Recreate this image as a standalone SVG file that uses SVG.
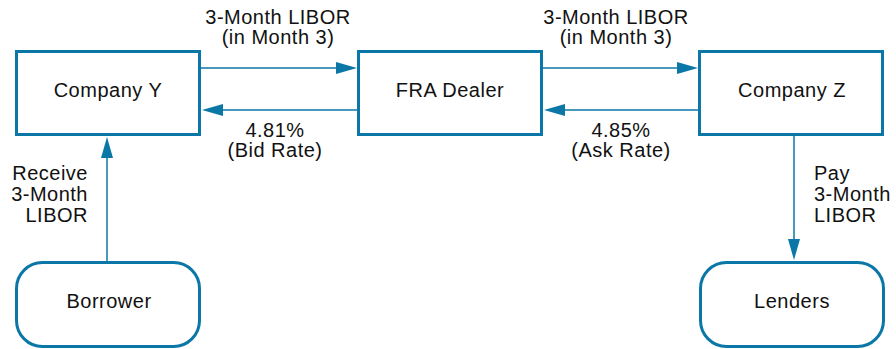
<svg xmlns="http://www.w3.org/2000/svg" width="896" height="349" viewBox="0 0 896 349">
<defs>
<style>
.box{fill:#fff;stroke:#0b77a7;stroke-width:3}
.ln{stroke:#0b77a7;stroke-width:1.5;fill:none}
.ah{fill:#0b77a7}
text{font-family:"Liberation Sans",Arial,sans-serif;font-size:20px;letter-spacing:0.5px;fill:#111}
.c{text-anchor:middle}
.r{text-anchor:end}
</style>
</defs>
<g id="connectors">
<line class="ln" x1="201" y1="68" x2="340" y2="68"/>
<polygon class="ah" points="357,68 336,62 336,74"/>
<line class="ln" x1="357" y1="110" x2="218" y2="110"/>
<polygon class="ah" points="202,110 223,104 223,116"/>
<line class="ln" x1="543" y1="68" x2="682" y2="68"/>
<polygon class="ah" points="698,68 677,62 677,74"/>
<line class="ln" x1="698" y1="110" x2="560" y2="110"/>
<polygon class="ah" points="544,110 565,104 565,116"/>
<line class="ln" x1="107" y1="261" x2="107" y2="152"/>
<polygon class="ah" points="107,137 101,158 113,158"/>
<line class="ln" x1="794" y1="136" x2="794" y2="244"/>
<polygon class="ah" points="794,260 788,239 800,239"/>
<text class="c" x="278" y="24">3-Month LIBOR</text>
<text class="c" x="278" y="44">(in Month 3)</text>
<text class="c" x="275" y="137">4.81%</text>
<text class="c" x="275" y="157">(Bid Rate)</text>
<text class="c" x="616" y="24">3-Month LIBOR</text>
<text class="c" x="616" y="44">(in Month 3)</text>
<text class="c" x="621" y="137">4.85%</text>
<text class="c" x="621" y="157">(Ask Rate)</text>
<text class="r" x="88" y="180">Receive</text>
<text class="r" x="88" y="201">3-Month</text>
<text class="r" x="88" y="222">LIBOR</text>
<text x="814" y="180">Pay</text>
<text x="814" y="201">3-Month</text>
<text x="814" y="222">LIBOR</text>
</g>
<g id="company-y">
<rect class="box" x="16.5" y="51.5" width="183" height="83"/>
<text class="c" x="108" y="97">Company Y</text>
</g>
<g id="fra-dealer">
<rect class="box" x="358.5" y="51.5" width="183" height="83"/>
<text class="c" x="450" y="97">FRA Dealer</text>
</g>
<g id="company-z">
<rect class="box" x="699.5" y="51.5" width="183" height="83"/>
<text class="c" x="792" y="97">Company Z</text>
</g>
<g id="borrower">
<rect class="box" x="16.5" y="262.5" width="183" height="84" rx="26"/>
<text class="c" x="109" y="308">Borrower</text>
</g>
<g id="lenders">
<rect class="box" x="700.5" y="262.5" width="183" height="84" rx="26"/>
<text class="c" x="792" y="308">Lenders</text>
</g>
</svg>
